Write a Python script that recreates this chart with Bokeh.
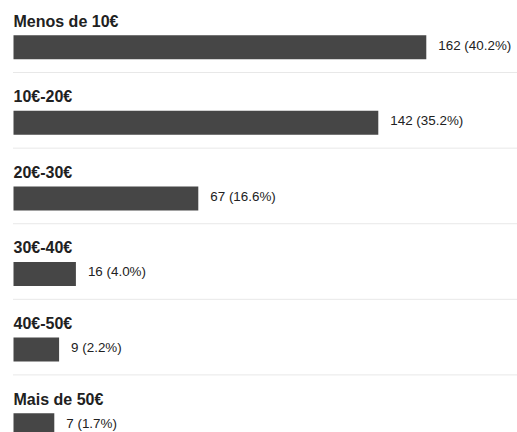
from bokeh.plotting import figure
from bokeh.models import Range1d, ColumnDataSource
from bokeh.core.properties import value
from bokeh.embed import file_html
from bokeh.resources import INLINE

categories = ["Menos de 10€", "10€-20€", "20€-30€", "30€-40€", "40€-50€", "Mais de 50€"]
counts = [162, 142, 67, 16, 9, 7]
percents = [40.2, 35.2, 16.6, 4.0, 2.2, 1.7]

labels = [f"{c} ({pc:.1f}%)" for c, pc in zip(counts, percents)]
idx = list(range(len(categories)))

W, H = 517, 432
k = 2.4           # pixels per response
x0 = -10          # bars start a little left of zero (minimum bar stub)
xstart = x0 - 13 / k
xend = xstart + W / k

src = ColumnDataSource(dict(
    y=idx,
    cat=categories,
    cnt=counts,
    lab=labels,
    lab_y=[i - 0.345 for i in idx],
    val_y=[i - 0.027 for i in idx],
))

p = figure(width=W, height=H, output_backend="svg", toolbar_location=None,
           x_range=Range1d(xstart, xend), y_range=Range1d(5.097, -0.618),
           x_axis_type=None, y_axis_type=None,
           min_border=0, min_border_left=0, min_border_right=0,
           min_border_top=0, min_border_bottom=0)
p.grid.visible = False
p.outline_line_color = None
p.background_fill_color = "white"
p.border_fill_color = "white"

# dotted separators between groups
sep_y = [i + 0.335 for i in idx[:-1]]
p.segment(x0=[x0] * len(sep_y), x1=[xend] * len(sep_y), y0=sep_y, y1=sep_y,
          line_color="#d0d0d0", line_width=1, line_dash="1 1")

p.hbar(y="y", left=x0, right="cnt", height=0.317, source=src,
       fill_color="#464646", line_color=None)

p.text(x=x0, y="lab_y", text="cat", source=src,
       text_font=value("Liberation Sans"), text_font_style="bold",
       text_font_size="16px", text_color="#212121",
       text_baseline="alphabetic", text_align="left")

p.text(x="cnt", y="val_y", text="lab", source=src, x_offset=12,
       text_font=value("Liberation Sans"), text_font_size="13.4px",
       text_color="#212121", text_baseline="alphabetic", text_align="left")

open("out.html", "w").write(file_html(p, INLINE))
